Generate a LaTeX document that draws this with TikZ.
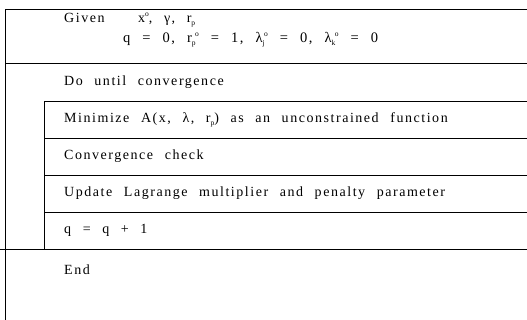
\documentclass[tikz,border=0pt]{standalone}
\usepackage{fontspec}
\setmainfont{Liberation Serif}[LetterSpace=11, WordSpace=2.3]
\newcommand{\mysml}[1]{{\fontsize{7.5}{7.5}\selectfont #1}}
\newcommand{\mysp}{\raisebox{6.5pt}{\mysml{o}}}
\newcommand{\mysb}[1]{\raisebox{-3pt}{\mysml{#1}}}
\newcommand{\mysbsp}[1]{\mysb{#1}\kern-0.5pt\mysp}
\begin{document}
\begin{tikzpicture}[x=1pt,y=-1pt,
  rule/.style={line width=0.9pt, line cap=rect},
  lbl/.style={anchor=west, inner sep=0pt, font=\fontsize{14}{17}\selectfont}]
\useasboundingbox (0,0) rectangle (527,320);
% outer frame
\draw[rule] (527,9) -- (5.5,9) -- (5.5,320);
\draw[rule] (5.5,63) -- (527,63);
% inner loop box
\draw[rule] (527,101) -- (44,101) -- (44,249);
\draw[rule] (44,138) -- (527,138);
\draw[rule] (44,175) -- (527,175);
\draw[rule] (44,212) -- (527,212);
\draw[rule] (0,249) -- (527,249);
% texts
\node[lbl] (given) at (64,20) {Given\hspace{2.4em}x\mysp, γ, r\mysb{p}};
\node[lbl, font=\fontsize{14.5}{17}\selectfont] (init) at (123,40) {q = 0, r\mysbsp{p} = 1, λ\mysbsp{j} = 0, λ\mysbsp{k} = 0};
\node[lbl] (do) at (64,82) {Do until convergence};
\node[lbl] (min) at (64,119.5) {Minimize A(x, λ, r\mysb{p}) as an unconstrained function};
\node[lbl] (conv) at (64,156.5) {Convergence check};
\node[lbl] (upd) at (64,193.5) {Update Lagrange multiplier and penalty parameter};
\node[lbl] (inc) at (64,230.5) {q = q + 1};
\node[lbl] (end) at (64,270) {End};
\end{tikzpicture}
\end{document}
